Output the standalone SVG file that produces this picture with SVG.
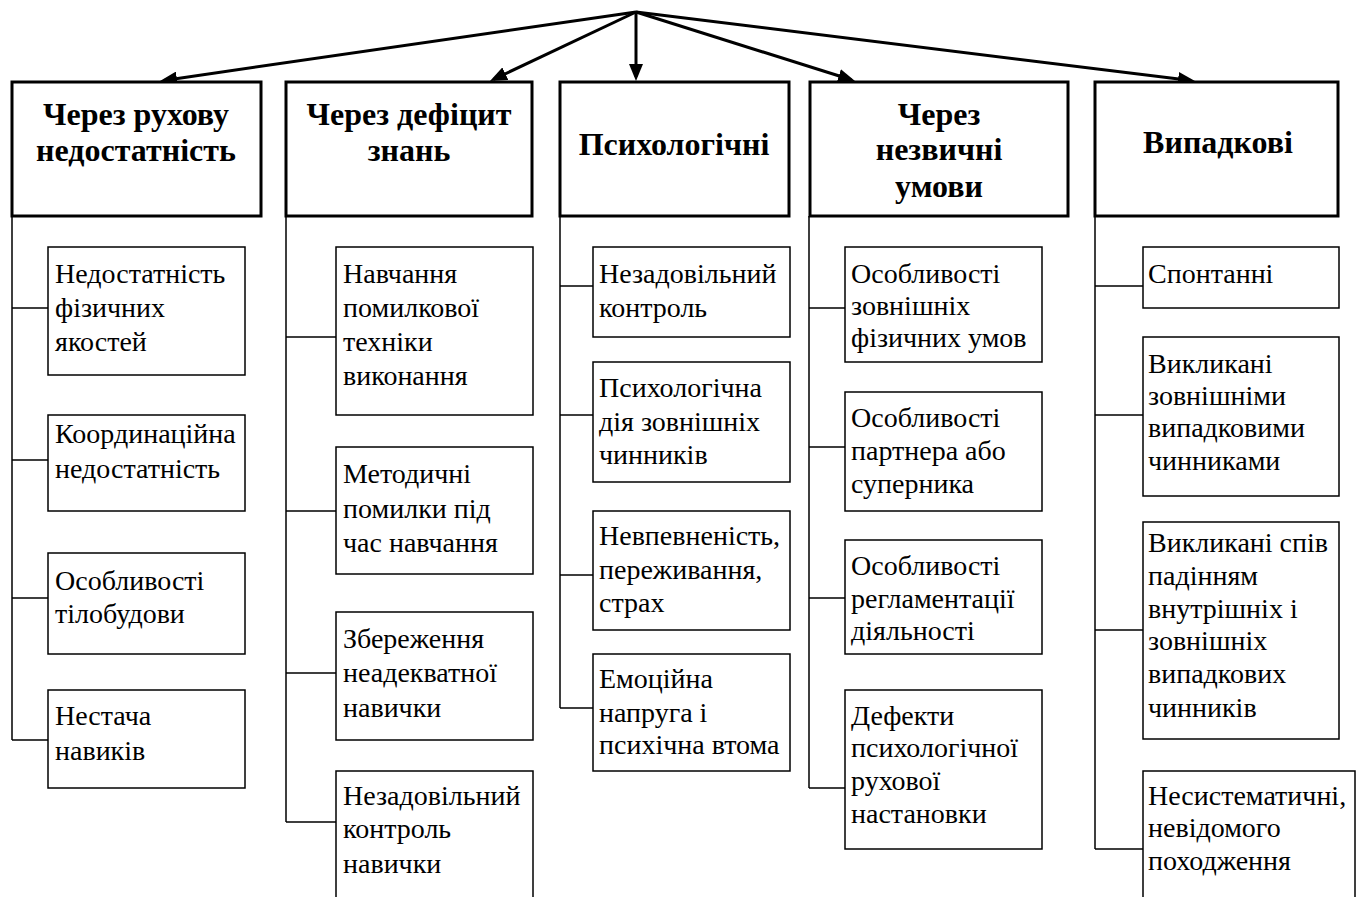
<svg xmlns="http://www.w3.org/2000/svg" width="1362" height="897" viewBox="0 0 1362 897">
<style>
.hdr{fill:#fff;stroke:#000;stroke-width:3}
.box{fill:#fff;stroke:#000;stroke-width:1.5}
.ht{font-family:"Liberation Serif","Times New Roman",serif;font-weight:bold;font-size:32px;text-anchor:middle;fill:#000}
.ct{font-family:"Liberation Serif","Times New Roman",serif;font-size:28px;fill:#000}
.arr{stroke:#000;stroke-width:3;fill:none;marker-end:url(#ah)}
.con{stroke:#000;stroke-width:1.5;fill:none}
</style>
<defs>
<marker id="ah" markerUnits="userSpaceOnUse" markerWidth="17" markerHeight="14" refX="13" refY="7" orient="auto">
<path d="M0,0 L17,7 L0,14 z" fill="#000"/>
</marker>
</defs>
<rect width="1362" height="897" fill="#fff"/>

<g id="connectors">
<line class="arr" x1="636" y1="12" x2="164" y2="80.4"/>
<line class="arr" x1="636" y1="12" x2="493.6" y2="79.3"/>
<line class="arr" x1="636" y1="12" x2="636" y2="77"/>
<line class="arr" x1="636" y1="12" x2="851.2" y2="79.8"/>
<line class="arr" x1="636" y1="12" x2="1191" y2="80.5"/>
<path class="con" d="M12,216 V740 M12,308 H48 M12,460 H48 M12,598 H48 M12,740 H48"/>
<path class="con" d="M286,216 V822 M286,337 H336 M286,511 H336 M286,673 H336 M286,822 H336"/>
<path class="con" d="M560,216 V708 M560,286 H593 M560,415 H593 M560,575 H593 M560,708 H593"/>
<path class="con" d="M809,216 V788 M809,308 H845 M809,447 H845 M809,598 H845 M809,788 H845"/>
<path class="con" d="M1095,216 V849 M1095,286 H1143 M1095,415 H1143 M1095,630 H1143 M1095,849 H1143"/>
</g>

<g id="h1"><rect class="hdr" x="12" y="82" width="249" height="134"/><text class="ht" x="136" y="125">Через рухову</text><text class="ht" x="136" y="161">недостатність</text></g>
<g id="h2"><rect class="hdr" x="286" y="82" width="246" height="134"/><text class="ht" x="409" y="125">Через дефіцит</text><text class="ht" x="409" y="161">знань</text></g>
<g id="h3"><rect class="hdr" x="560" y="82" width="229" height="134"/><text class="ht" x="674" y="155">Психологічні</text></g>
<g id="h4"><rect class="hdr" x="810" y="82" width="258" height="134"/><text class="ht" x="939" y="125">Через</text><text class="ht" x="939" y="160">незвичні</text><text class="ht" x="939" y="197">умови</text></g>
<g id="h5"><rect class="hdr" x="1095" y="82" width="243" height="134"/><text class="ht" x="1218" y="153">Випадкові</text></g>

<g id="c1a"><rect class="box" x="48" y="247" width="197" height="128"/><text class="ct" x="55" y="283">Недостатність</text><text class="ct" x="55" y="317">фізичних</text><text class="ct" x="55" y="351">якостей</text></g>
<g id="c1b"><rect class="box" x="48" y="415" width="197" height="96"/><text class="ct" x="55" y="443">Координаційна</text><text class="ct" x="55" y="478">недостатність</text></g>
<g id="c1c"><rect class="box" x="48" y="553" width="197" height="101"/><text class="ct" x="55" y="590">Особливості</text><text class="ct" x="55" y="623">тілобудови</text></g>
<g id="c1d"><rect class="box" x="48" y="690" width="197" height="98"/><text class="ct" x="55" y="725">Нестача</text><text class="ct" x="55" y="760">навиків</text></g>

<g id="c2a"><rect class="box" x="336" y="247" width="197" height="168"/><text class="ct" x="343" y="283">Навчання</text><text class="ct" x="343" y="317">помилкової</text><text class="ct" x="343" y="351">техніки</text><text class="ct" x="343" y="385">виконання</text></g>
<g id="c2b"><rect class="box" x="336" y="447" width="197" height="127"/><text class="ct" x="343" y="483">Методичні</text><text class="ct" x="343" y="518">помилки під</text><text class="ct" x="343" y="552">час навчання</text></g>
<g id="c2c"><rect class="box" x="336" y="612" width="197" height="128"/><text class="ct" x="343" y="648">Збереження</text><text class="ct" x="343" y="682">неадекватної</text><text class="ct" x="343" y="717">навички</text></g>
<g id="c2d"><rect class="box" x="336" y="771" width="197" height="140"/><text class="ct" x="343" y="805">Незадовільний</text><text class="ct" x="343" y="838">контроль</text><text class="ct" x="343" y="873">навички</text></g>

<g id="c3a"><rect class="box" x="593" y="247" width="197" height="90"/><text class="ct" x="599" y="283">Незадовільний</text><text class="ct" x="599" y="317">контроль</text></g>
<g id="c3b"><rect class="box" x="593" y="362" width="197" height="120"/><text class="ct" x="599" y="397">Психологічна</text><text class="ct" x="599" y="431">дія зовнішніх</text><text class="ct" x="599" y="464">чинників</text></g>
<g id="c3c"><rect class="box" x="593" y="511" width="197" height="119"/><text class="ct" x="599" y="545">Невпевненість,</text><text class="ct" x="599" y="579">переживання,</text><text class="ct" x="599" y="612">страх</text></g>
<g id="c3d"><rect class="box" x="593" y="654" width="197" height="117"/><text class="ct" x="599" y="688">Емоційна</text><text class="ct" x="599" y="722">напруга і</text><text class="ct" x="599" y="754">психічна втома</text></g>

<g id="c4a"><rect class="box" x="845" y="247" width="197" height="115"/><text class="ct" x="851" y="283">Особливості</text><text class="ct" x="851" y="315">зовнішніх</text><text class="ct" x="851" y="347">фізичних умов</text></g>
<g id="c4b"><rect class="box" x="845" y="392" width="197" height="119"/><text class="ct" x="851" y="427">Особливості</text><text class="ct" x="851" y="460">партнера або</text><text class="ct" x="851" y="493">суперника</text></g>
<g id="c4c"><rect class="box" x="845" y="540" width="197" height="114"/><text class="ct" x="851" y="575">Особливості</text><text class="ct" x="851" y="608">регламентації</text><text class="ct" x="851" y="640">діяльності</text></g>
<g id="c4d"><rect class="box" x="845" y="690" width="197" height="159"/><text class="ct" x="851" y="725">Дефекти</text><text class="ct" x="851" y="757">психологічної</text><text class="ct" x="851" y="790">рухової</text><text class="ct" x="851" y="823">настановки</text></g>

<g id="c5a"><rect class="box" x="1143" y="247" width="196" height="61"/><text class="ct" x="1148" y="283">Спонтанні</text></g>
<g id="c5b"><rect class="box" x="1143" y="337" width="196" height="159"/><text class="ct" x="1148" y="373">Викликані</text><text class="ct" x="1148" y="405">зовнішніми</text><text class="ct" x="1148" y="437">випадковими</text><text class="ct" x="1148" y="470">чинниками</text></g>
<g id="c5c"><rect class="box" x="1143" y="522" width="196" height="217"/><text class="ct" x="1148" y="552">Викликані спів</text><text class="ct" x="1148" y="585">падінням</text><text class="ct" x="1148" y="618">внутрішніх і</text><text class="ct" x="1148" y="650">зовнішніх</text><text class="ct" x="1148" y="683">випадкових</text><text class="ct" x="1148" y="717">чинників</text></g>
<g id="c5d"><rect class="box" x="1143" y="771" width="212" height="140"/><text class="ct" x="1148" y="805">Несистематичні,</text><text class="ct" x="1148" y="837">невідомого</text><text class="ct" x="1148" y="870">походження</text></g>
</svg>
